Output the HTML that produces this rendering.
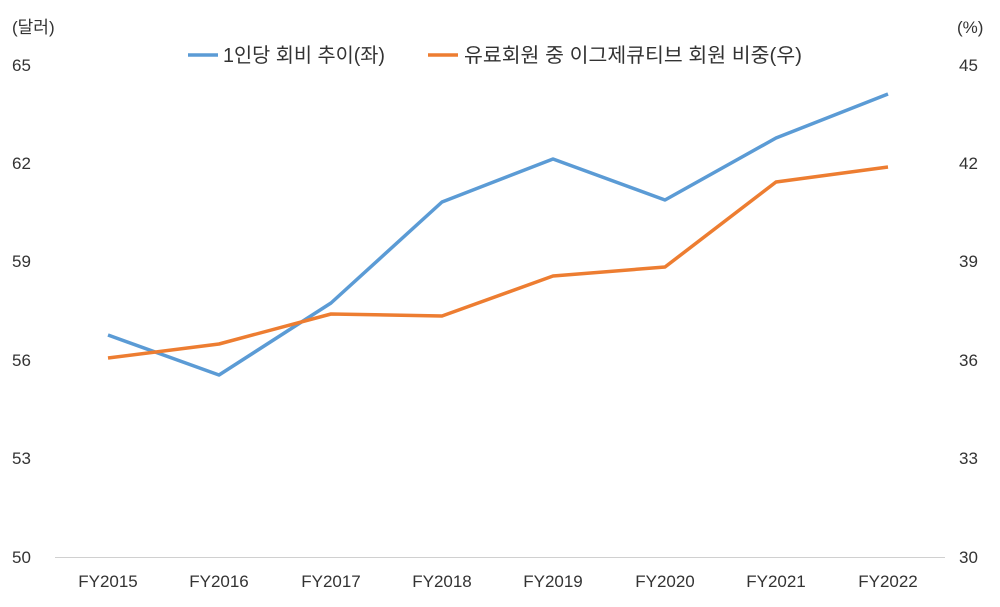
<!DOCTYPE html>
<html><head><meta charset="utf-8"><style>
html,body{margin:0;padding:0;background:#fff;}
svg{display:block;font-family:"Liberation Sans","Noto Sans CJK KR",sans-serif;}
</style></head><body>
<svg width="1000" height="607" viewBox="0 0 1000 607">
<g font-size="17" fill="#333">
<text x="12" y="33">(달러)</text>
<text x="957" y="33">(%)</text>
<text x="12" y="71">65</text>
<text x="12" y="169">62</text>
<text x="12" y="267">59</text>
<text x="12" y="366">56</text>
<text x="12" y="464">53</text>
<text x="12" y="563">50</text>
<text x="959" y="71">45</text>
<text x="959" y="169">42</text>
<text x="959" y="267">39</text>
<text x="959" y="366">36</text>
<text x="959" y="464">33</text>
<text x="959" y="563">30</text>
<g text-anchor="middle">
<text x="108" y="587">FY2015</text>
<text x="219" y="587">FY2016</text>
<text x="331" y="587">FY2017</text>
<text x="442" y="587">FY2018</text>
<text x="553" y="587">FY2019</text>
<text x="665" y="587">FY2020</text>
<text x="776" y="587">FY2021</text>
<text x="888" y="587">FY2022</text>
</g>
<text x="223" y="62" font-size="20" textLength="162" lengthAdjust="spacingAndGlyphs">1인당 회비 추이(좌)</text>
<text x="464" y="62" font-size="20" textLength="338" lengthAdjust="spacingAndGlyphs">유료회원 중 이그제큐티브 회원 비중(우)</text>
</g>
<line x1="55" y1="557.5" x2="945" y2="557.5" stroke="#d0d0d0" stroke-width="1"/>
<line x1="188" y1="55" x2="218" y2="55" stroke="#5B9BD5" stroke-width="3.5"/>
<line x1="428" y1="55" x2="458" y2="55" stroke="#ED7D31" stroke-width="3.5"/>
<polyline fill="none" stroke="#5B9BD5" stroke-width="3.5" stroke-linejoin="round" points="108,335 219,375 331,303 442,202 553,159 665,200 776,138 888,94"/>
<polyline fill="none" stroke="#ED7D31" stroke-width="3.5" stroke-linejoin="round" points="108,358 219,344 331,314 442,316 553,276 665,267 776,182 888,167"/>
</svg>
</body></html>
